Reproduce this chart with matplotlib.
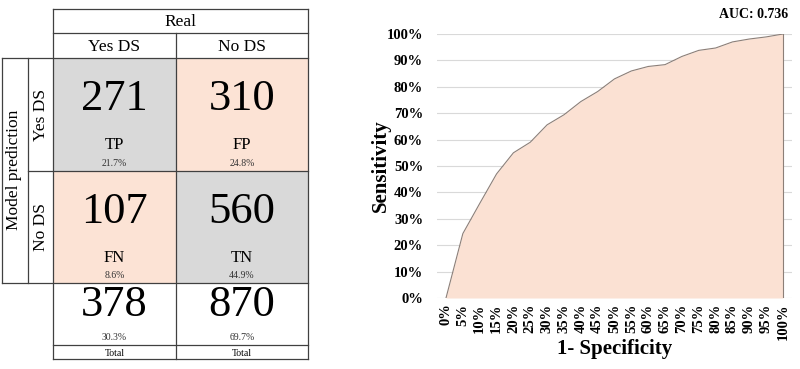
import matplotlib.pyplot as plt
from matplotlib.patches import Rectangle

# confusion matrix data
counts = [[271, 310], [107, 560]]
cell_names = [["TP", "FP"], ["FN", "TN"]]
cell_pcts = ["21.7%", "24.8%", "8.6%", "44.9%"]
totals = [378, 870]
total_pcts = ["30.3%", "69.7%"]
col_labels = ["Yes DS", "No DS"]
row_labels = ["Yes DS", "No DS"]

# ROC data
fpr = [0, 0.05, 0.10, 0.15, 0.20, 0.25, 0.30, 0.35, 0.40, 0.45, 0.50,
       0.55, 0.60, 0.65, 0.70, 0.75, 0.80, 0.85, 0.90, 0.95, 1.00]
tpr = [0, 0.244, 0.358, 0.47, 0.55, 0.59, 0.656, 0.694, 0.744, 0.782, 0.83,
       0.86, 0.877, 0.884, 0.915, 0.938, 0.947, 0.97, 0.981, 0.989, 1.0]
auc_text = "AUC: 0.736"

serif = "Liberation Serif"
gray_cell = "#D9D9D9"
peach_cell = "#FCE3D5"
line_c = "#404040"

fig = plt.figure(figsize=(8, 3.69), dpi=100)

# table drawn in pixel coords
tb = fig.add_axes([0, 0, 1, 1])
tb.set_xlim(0, 800)
tb.set_ylim(369, 0)
tb.axis("off")

xs = [53, 176, 308]
ys_rows = [58, 171, 283]
fills = [[gray_cell, peach_cell], [peach_cell, gray_cell]]
for i in range(2):
    for j in range(2):
        x0, x1 = xs[j], xs[j + 1]
        y0, y1 = ys_rows[i], ys_rows[i + 1]
        tb.add_patch(Rectangle((x0, y0), x1 - x0, y1 - y0, facecolor=fills[i][j], edgecolor="none"))
        cx = (x0 + x1) / 2
        tb.text(cx, y0 + 41, str(counts[i][j]), fontsize=32, family=serif, ha="center", va="center")
        tb.text(cx, y0 + 87, cell_names[i][j], fontsize=12, family=serif, ha="center", va="center")
        tb.text(cx, y0 + 105, cell_pcts[i * 2 + j], fontsize=7, family=serif, ha="center", va="center", color="#333333")

for j in range(2):
    cx = (xs[j] + xs[j + 1]) / 2
    tb.text(cx, 47, col_labels[j], fontsize=12.5, family=serif, ha="center", va="center")
    tb.text(cx, 305, str(totals[j]), fontsize=32, family=serif, ha="center", va="center")
    tb.text(cx, 337, total_pcts[j], fontsize=7, family=serif, ha="center", va="center", color="#333333")
    tb.text(cx, 353, "Total", fontsize=7, family=serif, ha="center", va="center")

for i in range(2):
    cy = (ys_rows[i] + ys_rows[i + 1]) / 2
    tb.text(41, cy, row_labels[i], fontsize=12.5, family=serif, ha="center", va="center", rotation=90)

tb.text(180, 22, "Real", fontsize=12.5, family=serif, ha="center", va="center")
tb.text(14, 170, "Model prediction", fontsize=12.5, family=serif, ha="center", va="center", rotation=90)

lw = 0.9
# horizontal lines
for y, xa, xb in [(9, 53, 308), (33, 53, 308), (58, 2, 308), (171, 28, 308),
                  (283, 2, 308), (345, 53, 308), (359, 53, 308)]:
    tb.plot([xa, xb], [y, y], color=line_c, lw=lw)
# vertical lines
for x, ya, yb in [(308, 9, 359), (53, 9, 359), (176, 33, 359), (28, 58, 283), (2, 58, 283)]:
    tb.plot([x, x], [ya, yb], color=line_c, lw=lw)

# ROC chart
ax = fig.add_axes([437 / 800, 1 - 298 / 369, (792 - 437) / 800, (298 - 34) / 369])
ax.fill_between(fpr, tpr, 0, color="#FBE1D3", lw=0)
ax.plot(fpr, tpr, color="#8C7F78", lw=0.8)
ax.plot([fpr[-1], fpr[-1]], [0, tpr[-1]], color="#8C7F78", lw=0.8)
ax.set_xlim(-0.0267, 1.0267)
ax.set_ylim(0, 1)
ax.set_xticks(fpr)
ax.set_xticklabels([f"{round(v * 100)}%" for v in fpr], rotation=90, fontsize=10.5,
                   family=serif, fontweight="bold")
yt = [k / 10 for k in range(11)]
ax.set_yticks(yt)
ax.set_yticklabels([f"{k * 10}%" for k in range(11)], fontsize=10.5, family=serif, fontweight="bold")
ax.tick_params(axis="y", length=0, pad=10)
ax.tick_params(axis="x", length=0, pad=4)
ax.grid(axis="y", color="#D9D9D9", lw=0.8)
ax.set_axisbelow(True)
for s in ax.spines.values():
    s.set_visible(False)
ax.set_xlabel("1- Specificity", fontsize=15, family=serif, fontweight="bold", labelpad=-1)
ax.set_ylabel("Sensitivity", fontsize=15, family=serif, fontweight="bold", labelpad=-3)
fig.text(788 / 800, 1 - 15 / 369, auc_text, fontsize=10, family=serif, fontweight="bold",
         ha="right", va="center")

fig.savefig("out.png", dpi=100)
